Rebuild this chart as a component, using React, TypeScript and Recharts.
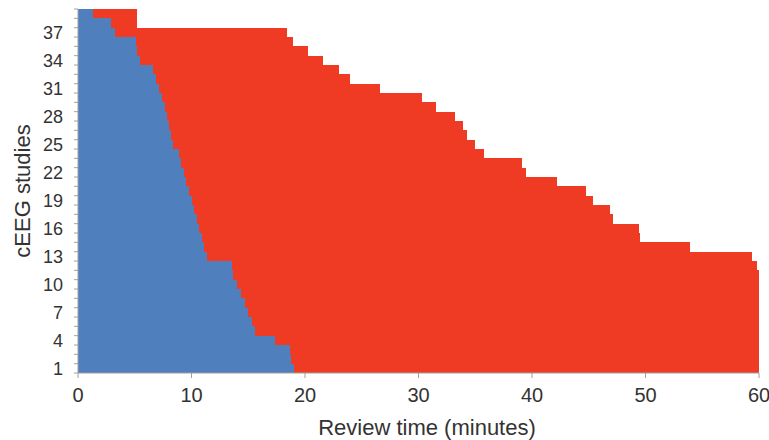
import React from 'react';
import { BarChart, Bar, XAxis, YAxis, Label } from 'recharts';

const studies = [
  1, 2, 3, 4, 5, 6, 7, 8, 9, 10, 11, 12, 13, 14, 15, 16, 17, 18, 19, 20,
  21, 22, 23, 24, 25, 26, 27, 28, 29, 30, 31, 32, 33, 34, 35, 36, 37, 38, 39,
];

// end of the blue segment (minutes)
const blueTimes = [
  19.0, 18.8, 18.7, 17.4, 15.6, 15.3, 15.0, 14.7, 14.4, 14.0, 13.7, 13.6, 11.4,
  11.1, 10.95, 10.7, 10.5, 10.2, 10.0, 9.75, 9.55, 9.3, 9.1, 8.9, 8.4, 8.2, 8.0,
  7.8, 7.65, 7.4, 7.1, 6.9, 6.6, 5.45, 5.2, 5.15, 3.3, 2.9, 1.3,
];

// end of the red segment (minutes)
const totalTimes = [
  60, 60, 60, 60, 60, 60, 60, 60, 60, 60, 60, 59.8, 59.4, 53.9, 49.5, 49.4,
  47.1, 46.9, 45.4, 44.8, 42.2, 39.5, 39.1, 35.8, 35.0, 34.25, 33.95, 33.2,
  31.5, 30.3, 26.6, 24.0, 23.0, 21.6, 20.3, 18.9, 18.4, 5.2, 5.2,
];

const yTickLabels = [1, 4, 7, 10, 13, 16, 19, 22, 25, 28, 31, 34, 37];
const xTicks = [0, 10, 20, 30, 40, 50, 60];

const data = studies.map((s, i) => ({
  study: s,
  blue: blueTimes[i],
  red: Math.max(0, totalTimes[i] - blueTimes[i]),
}));

const W = 769;
const H = 440;
const MARGIN = { top: 9, right: 10, bottom: 0, left: 0 };
const X_AXIS_H = 67;
const Y_AXIS_W = 78;
const PLOT_H = H - MARGIN.top - MARGIN.bottom - X_AXIS_H;
const BAND = PLOT_H / studies.length;
const FONT = '"Liberation Sans", Arial, Helvetica, sans-serif';
const TEXT = '#333333';
const AXIS = '#a0a0a0';
const BLUE = '#4F7FBC';
const RED = '#EF3B24';

// Fill the whole category band (Recharts truncates bar size to an integer)
const BandRect = (props: any) => {
  const { x, y, width, height, fill } = props;
  if (!width || !height) return null;
  const cy = y + height / 2;
  const x0 = Math.round(x);
  const x1 = Math.round(x + width);
  const y0 = Math.round(cy - BAND / 2);
  const y1 = Math.round(cy + BAND / 2);
  return <rect x={x0} y={y0} width={Math.max(0, x1 - x0)} height={Math.max(0, y1 - y0)} fill={fill} shapeRendering="crispEdges" />;
};

const YTick = (props: any) => {
  const { x, y, payload } = props;
  const v = payload.value;
  return (
    <g>
      <line x1={x - 4} x2={x} y1={y + BAND / 2} y2={y + BAND / 2} stroke={AXIS} strokeWidth={1} />
      {v === studies[studies.length - 1] && (
        <line x1={x - 4} x2={x} y1={y - BAND / 2} y2={y - BAND / 2} stroke={AXIS} strokeWidth={1} />
      )}
      {yTickLabels.includes(v) && (
        <text x={x - 15} y={y} dy="0.36em" textAnchor="end" fontSize={18} fill={TEXT} fontFamily={FONT}>
          {v}
        </text>
      )}
    </g>
  );
};

export default function App() {
  return (
    <div style={{ position: 'absolute', left: 0, top: 0, width: W, height: H, overflow: 'hidden' }}>
      <BarChart
        width={W}
        height={H}
        data={data}
        layout="vertical"
        margin={MARGIN}
        barCategoryGap={0}
        barGap={0}
      >
        <XAxis
          type="number"
          domain={[0, 60]}
          ticks={xTicks}
          allowDataOverflow
          height={X_AXIS_H}
          axisLine={{ stroke: AXIS }}
          tickLine={{ stroke: AXIS }}
          tickSize={5}
          tickMargin={10}
          tick={{ fontSize: 20, fill: TEXT, fontFamily: FONT }}
        >
          <Label
            content={() => (
              <text x={427} y={435} textAnchor="middle" fontSize={22} fill={TEXT} fontFamily={FONT}>
                Review time (minutes)
              </text>
            )}
          />
        </XAxis>
        <YAxis
          type="category"
          dataKey="study"
          reversed
          width={Y_AXIS_W}
          interval={0}
          axisLine={{ stroke: AXIS }}
          tickLine={false}
          tickSize={0}
          tickMargin={0}
          tick={<YTick />}
        >
          <Label
            content={() => (
              <text
                x={22}
                y={191}
                transform="rotate(-90, 22, 191)"
                textAnchor="middle"
                dominantBaseline="central"
                fontSize={22}
                fill={TEXT}
                fontFamily={FONT}
              >
                cEEG studies
              </text>
            )}
          />
        </YAxis>
        <Bar dataKey="blue" stackId="a" fill={BLUE} shape={<BandRect />} isAnimationActive={false} />
        <Bar dataKey="red" stackId="a" fill={RED} shape={<BandRect />} isAnimationActive={false} />
      </BarChart>
    </div>
  );
}
